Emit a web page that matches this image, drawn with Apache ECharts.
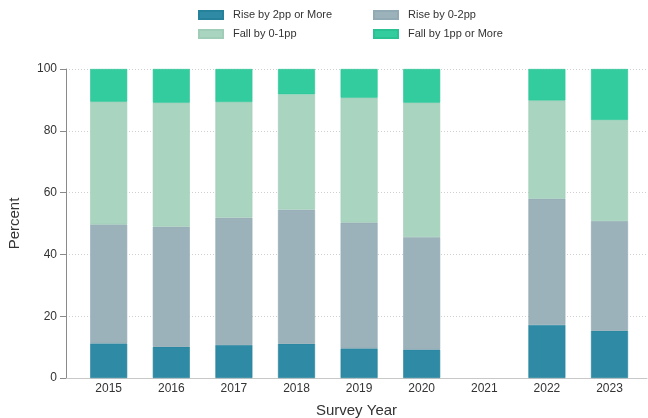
<!DOCTYPE html>
<html>
<head>
<meta charset="utf-8">
<script src="https://cdn.jsdelivr.net/npm/echarts@6/dist/echarts.min.js"></script>
<style>html,body{margin:0;padding:0;background:#fff}#c{width:648px;height:418px}</style>
</head>
<body>
<div id="c"></div>
<script>
const years = ['2015', '2016', '2017', '2018', '2019', '2020', '2021', '2022', '2023'];
const rise2 = [11.2, 10.1, 10.7, 11.1, 9.6, 9.2, null, 17.2, 15.3];
const rise02 = [38.5, 38.9, 41.2, 43.4, 40.7, 36.4, null, 40.8, 35.5];
const fall01 = [39.7, 40.1, 37.4, 37.3, 40.4, 43.5, null, 31.8, 32.7];
const fall1 = [10.6, 10.9, 10.7, 8.2, 9.3, 10.9, null, 10.2, 16.5];

const names = ['Rise by 2pp or More', 'Rise by 0-2pp', 'Fall by 0-1pp', 'Fall by 1pp or More'];
const colors = ['#2f8ba5', '#9bb2ba', '#a9d5c0', '#33cc9f'];
const borders = ['#26819b', '#92aab3', '#9fcdb7', '#2bc293'];
const values = [rise2, rise02, fall01, fall1];

const FONT = '"Liberation Sans", Arial, Helvetica, sans-serif';
const chart = echarts.init(document.getElementById('c'), null, {renderer: 'canvas'});

const legendPos = [[198, 8.5], [373, 8.5], [198, 27.5], [373, 27.5]];
const legends = names.map((n, i) => ({
  data: [n], left: legendPos[i][0], top: legendPos[i][1], padding: 0,
  itemWidth: 24, itemHeight: 8, icon: 'rect', selectedMode: false,
  textStyle: {fontFamily: FONT, fontSize: 11, color: '#333', lineHeight: 13, padding: [0, 0, 0, 5]}
}));

chart.setOption({
  backgroundColor: '#fff',
  animation: false,
  legend: legends,
  grid: [
    {left: 66, right: 1, top: 69, bottom: 40, containLabel: false, outerBoundsMode: 'none'},
    {left: 77.4, right: 7.2, top: 69, bottom: 40, containLabel: false, outerBoundsMode: 'none'}
  ],
  xAxis: [
    {
      gridIndex: 0, type: 'value', min: 0, max: 1,
      name: 'Survey Year', nameLocation: 'middle', nameGap: 25,
      nameTextStyle: {fontFamily: FONT, fontSize: 15, color: '#333'},
      axisLine: {show: true, lineStyle: {color: '#c8c8c8', width: 1}},
      axisTick: {show: false}, axisLabel: {show: false}, splitLine: {show: false}
    },
    {
      gridIndex: 1, type: 'category', data: years, boundaryGap: true,
      axisLine: {show: false}, axisTick: {show: false}, splitLine: {show: false},
      axisLabel: {fontFamily: FONT, fontSize: 12, color: '#333', margin: 5, interval: 0}
    }
  ],
  yAxis: [
    {
      gridIndex: 0, type: 'value', min: 0, max: 100, interval: 20,
      name: 'Percent', nameLocation: 'middle', nameGap: 44,
      nameTextStyle: {fontFamily: FONT, fontSize: 15, color: '#333'},
      axisLine: {show: true, lineStyle: {color: '#8a8a8a', width: 1}},
      axisTick: {show: true, length: 6, lineStyle: {color: '#8a8a8a'}},
      axisLabel: {fontFamily: FONT, fontSize: 12, color: '#333', margin: 9},
      splitLine: {show: true, lineStyle: {color: '#cfcfcf', type: [1, 2], width: 1}}
    },
    {
      gridIndex: 1, type: 'value', min: 0, max: 100, show: false, splitLine: {show: false}
    }
  ],
  series: names.map((n, i) => ({
    name: n, type: 'bar', stack: 'total', barWidth: 37,
    xAxisIndex: 1, yAxisIndex: 1,
    itemStyle: {color: colors[i], borderColor: borders[i], borderWidth: 0.6},
    data: values[i]
  }))
});
</script>
</body>
</html>
